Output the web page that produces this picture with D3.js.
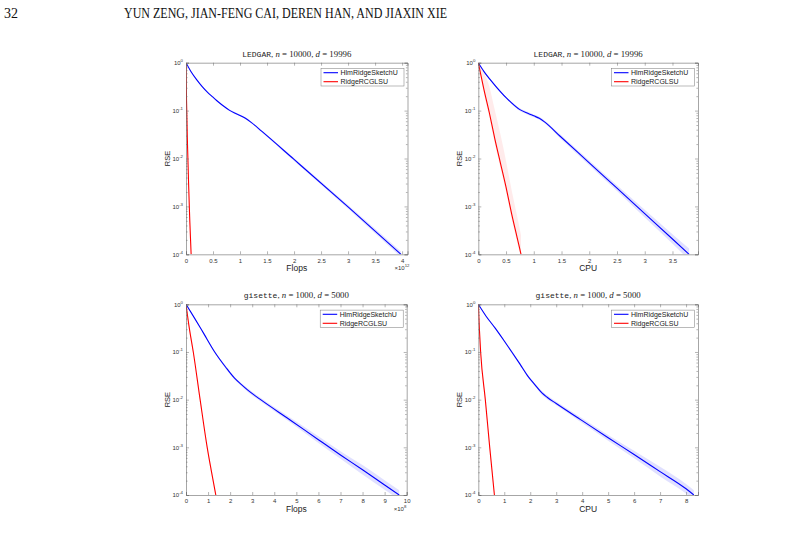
<!DOCTYPE html>
<html>
<head>
<meta charset="utf-8">
<script src="https://cdn.jsdelivr.net/npm/d3@7"></script>
<style>
  body { margin: 0; background: #fff; }
  svg { display: block; }
</style>
</head>
<body>
<svg id="canvas" width="802" height="555"></svg>
<script>
// ---- data (x in panel units, y as log10 of RSE) ----
let p1BlueX   = [0, 0.1, 0.2, 0.3, 0.4, 0.5, 0.6, 0.7, 0.8, 0.9, 1.0, 1.1, 1.2, 1.4, 2, 3, 3.98];
let p1BlueLog = [0, -0.2, -0.36, -0.5, -0.62, -0.72, -0.82, -0.91, -0.99, -1.05, -1.1, -1.16, -1.24, -1.43, -2.02, -3.01, -4];
let p1BlueBand = [0, 0.01, 0.01, 0.01, 0.01, 0.01, 0.01, 0.01, 0.02, 0.02, 0.02, 0.02, 0.02, 0.02, 0.03, 0.04, 0.06];
let p1RedX    = [0, 0.01, 0.03, 0.05, 0.07, 0.095];
let p1RedLog  = [0, -0.8, -1.8, -2.6, -3.3, -4];
let p1RedUp   = [0, 0.3, 0.3, 0.3, 0.3, 0.3];
let p1RedDown = [0, 0.1, 0.1, 0.1, 0.1, 0.1];

let p2BlueX   = [0, 0.1, 0.27, 0.51, 0.75, 0.9, 1.0, 1.1, 1.2, 1.47, 2, 2.5, 3, 3.5, 3.8];
let p2BlueLog = [0, -0.18, -0.43, -0.74, -0.98, -1.06, -1.11, -1.16, -1.24, -1.53, -2.09, -2.62, -3.15, -3.68, -4];
let p2BlueBand = [0, 0.01, 0.02, 0.02, 0.03, 0.03, 0.03, 0.03, 0.03, 0.04, 0.05, 0.06, 0.08, 0.1, 0.12];
let p2RedX    = [0, 0.1, 0.2, 0.3, 0.4, 0.5, 0.6, 0.7, 0.77];
let p2RedLog  = [0, -0.55, -1.05, -1.6, -2.1, -2.6, -3.15, -3.65, -4];
let p2RedUp   = [0, 0.35, 0.55, 0.6, 0.6, 0.55, 0.5, 0.45, 0.4];
let p2RedDown = [0, 0.08, 0.1, 0.1, 0.1, 0.1, 0.1, 0.1, 0.1];

let p3BlueX   = [0, 0.4, 0.8, 1.3, 1.8, 2.2, 2.5, 2.8, 3.35, 4.7, 6, 7, 8, 9, 9.66];
let p3BlueLog = [0, -0.3, -0.61, -1.0, -1.32, -1.55, -1.68, -1.8, -1.99, -2.42, -2.84, -3.16, -3.47, -3.79, -4];
let p3BlueBand = [0, 0.01, 0.02, 0.02, 0.03, 0.03, 0.03, 0.04, 0.04, 0.05, 0.07, 0.08, 0.1, 0.1, 0.1];
let p3RedX    = [0, 0.15, 0.33, 0.64, 0.96, 1.15, 1.35];
let p3RedLog  = [0, -0.5, -1, -2, -3, -3.5, -4];
let p3RedUp   = [0, 0.05, 0.05, 0.05, 0.05, 0.05, 0.05];
let p3RedDown = [0, 0.05, 0.05, 0.05, 0.05, 0.05, 0.05];

let p4BlueX   = [0, 0.3, 0.65, 1.0, 1.29, 1.6, 1.9, 2.2, 2.45, 2.65, 3, 4, 5, 6, 7, 8, 8.3];
let p4BlueLog = [0, -0.25, -0.5, -0.77, -1.0, -1.25, -1.5, -1.7, -1.86, -1.95, -2.08, -2.44, -2.8, -3.15, -3.51, -3.87, -4];
let p4BlueBand = [0, 0.01, 0.02, 0.02, 0.03, 0.03, 0.03, 0.03, 0.04, 0.04, 0.04, 0.05, 0.06, 0.08, 0.1, 0.1, 0.1];
let p4RedX    = [0, 0.04, 0.09, 0.27, 0.44, 0.62];
let p4RedLog  = [0, -0.5, -1, -2, -3, -4];
let p4RedUp   = [0, 0.05, 0.05, 0.05, 0.05, 0.05];
let p4RedDown = [0, 0.05, 0.05, 0.05, 0.05, 0.05];

let yTickValues = [1, 1e-1, 1e-2, 1e-3, 1e-4];
let xTicks1 = [0, 0.5, 1, 1.5, 2, 2.5, 3, 3.5, 4];
let xTicks2 = [0, 0.5, 1, 1.5, 2, 2.5, 3, 3.5];
let xTicks3 = [0, 1, 2, 3, 4, 5, 6, 7, 8, 9, 10];
let xTicks4 = [0, 1, 2, 3, 4, 5, 6, 7, 8];
let legendNames = ['HlmRidgeSketchU', 'RidgeRCGLSU'];
let seriesColors = ['#0000ff', '#ff0000'];

// ---- layout ----
let panels = [
    {left: 186, top: 62.7, width: 221.5, height: 191.6, xMax: 4.1, xTicks: xTicks1, xLabel: 'Flops', xExp: '12',
     set: 'LEDGAR', n: '10000', d: '19996',
     blue: [p1BlueX, p1BlueLog, p1BlueBand], red: [p1RedX, p1RedLog, p1RedUp, p1RedDown]},
    {left: 478.3, top: 62.7, width: 219.7, height: 191.6, xMax: 3.96, xTicks: xTicks2, xLabel: 'CPU', xExp: null,
     set: 'LEDGAR', n: '10000', d: '19996',
     blue: [p2BlueX, p2BlueLog, p2BlueBand], red: [p2RedX, p2RedLog, p2RedUp, p2RedDown]},
    {left: 186, top: 304.3, width: 220.7, height: 190.7, xMax: 10, xTicks: xTicks3, xLabel: 'Flops', xExp: '8',
     set: 'gisette', n: '1000', d: '5000',
     blue: [p3BlueX, p3BlueLog, p3BlueBand], red: [p3RedX, p3RedLog, p3RedUp, p3RedDown]},
    {left: 478.3, top: 304.3, width: 219.7, height: 190.7, xMax: 8.46, xTicks: xTicks4, xLabel: 'CPU', xExp: null,
     set: 'gisette', n: '1000', d: '5000',
     blue: [p4BlueX, p4BlueLog, p4BlueBand], red: [p4RedX, p4RedLog, p4RedUp, p4RedDown]}
];

let canvas = d3.select('#canvas');
let sans = 'Liberation Sans, Arial, sans-serif';
let serif = 'Liberation Serif, DejaVu Serif, serif';

// page header
canvas.append('text')
    .attr('x', 4).attr('y', 18)
    .attr('font-family', serif).attr('font-size', 14).attr('fill', '#111')
    .text('32');
canvas.append('text')
    .attr('x', 124).attr('y', 18)
    .attr('font-family', serif).attr('font-size', 13.8).attr('fill', '#111')
    .attr('textLength', 323).attr('lengthAdjust', 'spacingAndGlyphs')
    .text('YUN ZENG, JIAN-FENG CAI, DEREN HAN, AND JIAXIN XIE');

let minorValues = [];
for (let e = -4; e < 0; e++) {
    for (let m = 2; m <= 9; m++) {
        minorValues.push(m * Math.pow(10, e));
    }
}

let drawPanel = (p, i) => {
    let g = canvas.append('g').attr('transform', `translate(${p.left},${p.top})`);
    let x = d3.scaleLinear().domain([0, p.xMax]).range([0, p.width]);
    let y = d3.scaleLog().domain([1e-4, 1]).range([p.height, 0]);

    g.append('rect').attr('width', p.width).attr('height', p.height).attr('fill', '#fff');

    let clipId = 'clip' + i;
    g.append('clipPath').attr('id', clipId)
        .append('rect').attr('width', p.width).attr('height', p.height);
    let plot = g.append('g').attr('clip-path', `url(#${clipId})`);

    let band = d3.area().curve(d3.curveMonotoneX)
        .x(r => x(r.x)).y0(r => y(Math.pow(10, r.lo))).y1(r => y(Math.pow(10, r.hi)));
    let line = d3.line().curve(d3.curveMonotoneX)
        .x(r => x(r.x)).y(r => y(Math.pow(10, r.y)));

    // blue band
    let [bx, bl, bb] = p.blue;
    let blueRows = bx.map((v, k) => ({x: v, y: bl[k], lo: bl[k] - bb[k], hi: bl[k] + bb[k]}));
    plot.append('path').datum(blueRows).attr('d', band)
        .attr('fill', '#0000ff').attr('fill-opacity', 0.12);

    // red band
    let [rx, rl, ru, rd] = p.red;
    let redRows = rx.map((v, k) => ({x: v, y: rl[k], lo: rl[k] - rd[k], hi: rl[k] + ru[k]}));
    plot.append('path').datum(redRows).attr('d', band)
        .attr('fill', '#ff0000').attr('fill-opacity', 0.08);

    plot.append('path').datum(blueRows).attr('d', line)
        .attr('fill', 'none').attr('stroke', seriesColors[0]).attr('stroke-width', 1.1);
    plot.append('path').datum(redRows).attr('d', line)
        .attr('fill', 'none').attr('stroke', seriesColors[1]).attr('stroke-width', 1.1);

    // axes (ticks pointing inward, MATLAB style)
    let axisColor = '#6a6a6a';
    let bottom = g.append('g').attr('transform', `translate(0,${p.height})`)
        .call(d3.axisBottom(x).tickValues(p.xTicks).tickSize(-3).tickPadding(4).tickFormat(d3.format('')));
    let top = g.append('g')
        .call(d3.axisTop(x).tickValues(p.xTicks).tickSize(-3).tickFormat(''));
    let left = g.append('g')
        .call(d3.axisLeft(y).tickValues(yTickValues).tickSize(-3).tickPadding(3));
    let right = g.append('g').attr('transform', `translate(${p.width},0)`)
        .call(d3.axisRight(y).tickValues(yTickValues).tickSize(-3).tickFormat(''));
    let leftMinor = g.append('g')
        .call(d3.axisLeft(y).tickValues(minorValues).tickSize(-1.6).tickFormat(''));
    let rightMinor = g.append('g').attr('transform', `translate(${p.width},0)`)
        .call(d3.axisRight(y).tickValues(minorValues).tickSize(-1.6).tickFormat(''));

    [bottom, top, left, right, leftMinor, rightMinor].forEach(a => {
        a.select('.domain').attr('stroke', axisColor).attr('stroke-width', 0.6);
        a.selectAll('.tick line').attr('stroke', axisColor).attr('stroke-width', 0.5);
        a.selectAll('.tick text').attr('font-family', sans).attr('font-size', 6).attr('fill', '#333');
    });
    leftMinor.select('.domain').remove();
    rightMinor.select('.domain').remove();

    left.selectAll('.tick text').each(function (d) {
        let t = d3.select(this);
        t.text('10');
        t.append('tspan').attr('dy', -3).attr('font-size', 4.3)
            .text(String(Math.round(Math.log10(d))));
    });

    // labels
    g.append('text')
        .attr('x', p.width / 2).attr('y', p.height + 17)
        .attr('text-anchor', 'middle')
        .attr('font-family', sans).attr('font-size', 8.5).attr('fill', '#222')
        .text(p.xLabel);
    g.append('text')
        .attr('transform', `translate(-16,${p.height / 2}) rotate(-90)`)
        .attr('text-anchor', 'middle')
        .attr('font-family', sans).attr('font-size', 7.5).attr('fill', '#222')
        .text('RSE');
    if (p.xExp) {
        let ex = g.append('text')
            .attr('x', p.width - 13).attr('y', p.height + 16)
            .attr('font-family', sans).attr('font-size', 6).attr('fill', '#333')
            .text('\u00d710');
        ex.append('tspan').attr('dy', -3).attr('font-size', 4.3).text(p.xExp);
    }

    // title
    let title = g.append('text')
        .attr('x', p.width / 2).attr('y', -6)
        .attr('text-anchor', 'middle')
        .attr('font-family', serif).attr('font-size', 8.8).attr('fill', '#222');
    title.append('tspan').attr('font-family', 'Liberation Mono, DejaVu Sans Mono, monospace').attr('font-size', 8).text(p.set);
    title.append('tspan').text(', ');
    title.append('tspan').attr('font-style', 'italic').text('n');
    title.append('tspan').text(' = ' + p.n + ', ');
    title.append('tspan').attr('font-style', 'italic').text('d');
    title.append('tspan').text(' = ' + p.d);

    // legend
    let lw = 83, lh = 17.5;
    let legend = g.append('g').attr('transform', `translate(${p.width - lw - 3.5},${5.8})`);
    legend.append('rect').attr('width', lw).attr('height', lh)
        .attr('fill', '#fff').attr('stroke', '#777').attr('stroke-width', 0.5);
    legendNames.forEach((name, k) => {
        let yy = 4.2 + k * 9;
        legend.append('line')
            .attr('x1', 2.5).attr('x2', 17).attr('y1', yy).attr('y2', yy)
            .attr('stroke', seriesColors[k]).attr('stroke-width', 1.1);
        legend.append('text')
            .attr('x', 19.5).attr('y', yy + 2.4)
            .attr('font-family', sans).attr('font-size', 7).attr('fill', '#222')
            .text(name);
    });
};

panels.forEach(drawPanel);
</script>
</body>
</html>
